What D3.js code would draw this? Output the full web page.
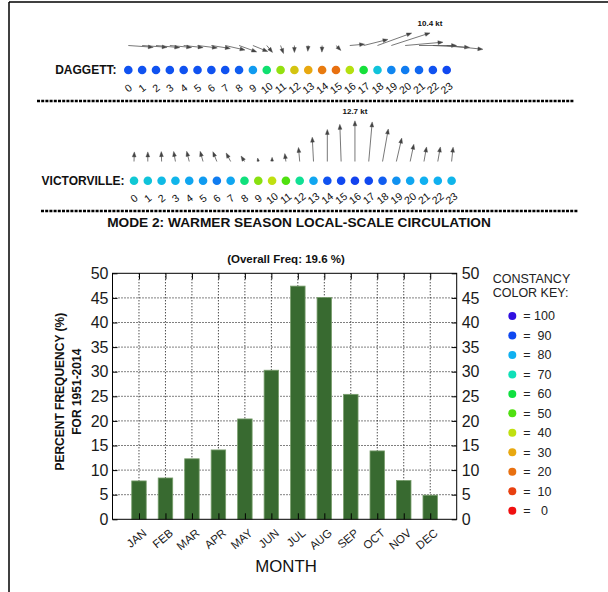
<!DOCTYPE html>
<html>
<head>
<meta charset="utf-8">
<script src="https://cdn.jsdelivr.net/npm/d3@7"></script>
<style>
  html, body { margin: 0; padding: 0; background: #fff; }
  svg { display: block; font-family: "Liberation Sans", Arial, Helvetica, sans-serif; }
</style>
</head>
<body>
<svg id="chart" width="608" height="592"></svg>
<script>
// ---------------- DATA ----------------
const hours = [0,1,2,3,4,5,6,7,8,9,10,11,12,13,14,15,16,17,18,19,20,21,22,23];

// Daggett: constancy (%), wind speed (kt), wind direction (deg, blowing from)
const daggettConstancy = [89,89,89,89,89,89,89,89,88,82,64,44,35,30,22,20,41,59,76,84,85,87,89,90];
const daggettSpeed     = [6.4,6.4,6.1,5.6,5.0,5.1,4.9,5.2,4.8,4.1,2.3,2.2,1.8,1.5,1.7,1.8,3.8,6.4,9.3,10.4,9.7,9.6,9.4,9.3];
const daggettDir       = [274,274,275,275,276,277,279,283,290,292,320,340,0,5,2,315,265,256,250,252,265,270,273,276];

// Victorville
const victorConstancy = [75,76,78,79,81,82,85,81,65,45,40,50,67,81,89,90,91,90,88,83,81,80,80,79];
const victorSpeed     = [3.0,3.0,3.1,3.2,3.3,3.3,3.3,3.0,2.0,1.1,1.3,2.5,4.4,7.6,10.0,11.6,12.7,12.4,10.3,7.5,5.5,4.6,4.6,4.5];
const victorDir       = [182,180,178,170,166,164,158,152,148,170,180,172,175,177,180,178,180,185,190,193,192,190,190,186];

// Monthly frequency (%)
const months = ["JAN","FEB","MAR","APR","MAY","JUN","JUL","AUG","SEP","OCT","NOV","DEC"];
const freq   = [7.8, 8.4, 12.3, 14.1, 20.4, 30.3, 47.4, 45.1, 25.4, 13.9, 7.9, 4.9];
const yTicks = [0,5,10,15,20,25,30,35,40,45,50];

// Constancy colour key
const keyValues = [100,90,80,70,60,50,40,30,20,10,0];
const keyColors = ["#3010e0","#1048f0","#10b0f0","#10e0b8","#10e040","#50e010","#c0e010","#e8a810","#e87010","#e84010","#f01010"];

const titleText = "MODE 2: WARMER SEASON LOCAL-SCALE CIRCULATION";
const overallText = "(Overall Freq: 19.6 %)";

// ---------------- DRAW ----------------
const svg = d3.select("#chart");
const color = d3.scaleLinear().domain(keyValues).range(keyColors).interpolate(d3.interpolateRgb);

// frame
svg.append("line").attr("x1", 9).attr("y1", 2).attr("x2", 608).attr("y2", 2).attr("stroke", "#000").attr("stroke-width", 1.5);
svg.append("line").attr("x1", 9).attr("y1", 2).attr("x2", 9).attr("y2", 592).attr("stroke", "#000").attr("stroke-width", 1.5);

// dashed separators
[[101, 37, 574], [211, 41, 578]].forEach(([yy, x1, x2]) => {
  svg.append("line").attr("x1", x1).attr("x2", x2).attr("y1", yy).attr("y2", yy)
    .attr("stroke", "#000").attr("stroke-width", 2.6).attr("stroke-dasharray", "3,1.2");
});

function drawStation(cfg) {
  const g = svg.append("g");
  const xs = d3.scaleLinear().domain([0, 23]).range(cfg.range);
  const maxS = d3.max(cfg.speed);
  const len = d3.scaleLinear().domain([0, maxS]).range([0, 40.7]);

  const arrows = g.selectAll("g.arrow").data(hours).join("g").attr("class", "arrow");
  arrows.each(function(h) {
    const L = len(cfg.speed[h]);
    const a = (cfg.dir[h] + 180) * Math.PI / 180;
    const ux = Math.sin(a), uy = -Math.cos(a);
    const x0 = xs(h), y0 = cfg.tailY;
    const tx = x0 + ux * L, ty = y0 + uy * L;
    const hl = Math.min(5, L * 0.9), hw = hl * 0.38;
    const sel = d3.select(this);
    sel.append("line").attr("x1", x0).attr("y1", y0)
      .attr("x2", tx - ux * hl * 0.5).attr("y2", ty - uy * hl * 0.5)
      .attr("stroke", "#555").attr("stroke-width", 0.8);
    const bx = tx - ux * hl, by = ty - uy * hl;
    sel.append("path")
      .attr("d", `M${tx},${ty}L${bx - uy * hw},${by + ux * hw}L${bx + uy * hw},${by - ux * hw}Z`)
      .attr("fill", "#444").attr("stroke", "#444").attr("stroke-width", 0.4);
    if (cfg.speed[h] === maxS) {
      g.append("text").attr("x", tx).attr("y", ty - 7).attr("text-anchor", "middle")
        .attr("font-size", 8).attr("font-weight", "bold").attr("fill", "#111")
        .text(maxS.toFixed(1) + " kt");
    }
  });

  g.selectAll("circle").data(hours).join("circle")
    .attr("cx", d => xs(d)).attr("cy", cfg.dotY).attr("r", 4.3)
    .attr("fill", d => color(cfg.constancy[d]));

  g.selectAll("text.hr").data(hours).join("text").attr("class", "hr")
    .attr("transform", d => `translate(${xs(d)},${cfg.labelY}) rotate(-38)`)
    .attr("text-anchor", "middle").attr("dy", "0.35em")
    .attr("font-size", 10.5).attr("fill", "#111").text(d => d);

  g.append("text").attr("x", cfg.nameX).attr("y", cfg.dotY + 4.3)
    .attr("text-anchor", "end").attr("font-size", 12).attr("font-weight", "bold")
    .attr("fill", "#111").text(cfg.name);
}

drawStation({ name: "DAGGETT:", range: [128.3, 446.7], dotY: 70, tailY: 45.5, labelY: 88,
  nameX: 116.5, constancy: daggettConstancy, speed: daggettSpeed, dir: daggettDir });
drawStation({ name: "VICTORVILLE:", range: [134, 451.6], dotY: 180.7, tailY: 161.5, labelY: 198.3,
  nameX: 124.5, constancy: victorConstancy, speed: victorSpeed, dir: victorDir });

svg.append("text").attr("x", 299).attr("y", 227).attr("text-anchor", "middle")
  .attr("font-size", 13.7).attr("font-weight", "bold").attr("fill", "#111").text(titleText);

// ---------------- BAR CHART ----------------
const pLeft = 112.5, pRight = 456.7, pTop = 273.3, pBottom = 519.3;
const x = d3.scaleLinear().domain([0, 13]).range([pLeft, pRight]);
const y = d3.scaleLinear().domain([0, 50]).range([pBottom, pTop]);
const bc = svg.append("g");

svg.append("text").attr("x", 286).attr("y", 263).attr("text-anchor", "middle")
  .attr("font-size", 11.5).attr("font-weight", "bold").attr("fill", "#111").text(overallText);

bc.selectAll("line.hg").data(yTicks.filter(t => t > 0 && t < 50)).join("line").attr("class", "hg")
  .attr("x1", pLeft).attr("x2", pRight).attr("y1", d => y(d)).attr("y2", d => y(d))
  .attr("stroke", "#000").attr("stroke-width", 1).attr("stroke-dasharray", "1,2");
bc.selectAll("line.vg").data(months).join("line").attr("class", "vg")
  .attr("x1", (d, i) => x(i + 1)).attr("x2", (d, i) => x(i + 1)).attr("y1", pTop).attr("y2", pBottom)
  .attr("stroke", "#000").attr("stroke-width", 1).attr("stroke-dasharray", "1,2");

const bw = 14.5;
bc.selectAll("rect.bar").data(freq).join("rect").attr("class", "bar")
  .attr("x", (d, i) => x(i + 1) - bw / 2).attr("width", bw)
  .attr("y", d => y(d)).attr("height", d => y(0) - y(d))
  .attr("fill", "#386a30").attr("stroke", "#7a9f6e").attr("stroke-width", 0.8);

const axL = d3.axisLeft(y).tickValues(yTicks).tickSize(-5).tickPadding(4);
const axR = d3.axisRight(y).tickValues(yTicks).tickSize(-5).tickPadding(5);
const axB = d3.axisBottom(x).tickValues(d3.range(1, 13)).tickFormat(d => months[d - 1]).tickSize(-6);
const axT = d3.axisTop(x).tickValues(d3.range(1, 13)).tickFormat("").tickSize(-6);

function styleAxis(sel) {
  sel.select(".domain").remove();
  sel.selectAll(".tick line").attr("stroke", "#000").attr("stroke-width", 1);
  sel.selectAll("text").attr("fill", "#1a1a1a").attr("font-family", "Liberation Sans, Arial, sans-serif");
}
const gL = svg.append("g").attr("transform", `translate(${pLeft},0)`).call(axL).call(styleAxis);
gL.selectAll("text").attr("font-size", 16);
const gR = svg.append("g").attr("transform", `translate(${pRight},0)`).call(axR).call(styleAxis);
gR.selectAll("text").attr("font-size", 16);
svg.append("g").attr("transform", `translate(0,${pTop})`).call(axT).call(styleAxis);
const gB = svg.append("g").attr("transform", `translate(0,${pBottom})`).call(axB).call(styleAxis);
gB.selectAll("text")
  .attr("font-size", 11.5).attr("text-anchor", "end")
  .attr("x", 0).attr("y", 0).attr("dy", 0)
  .attr("transform", "translate(8,15) rotate(-40)");

svg.append("rect").attr("x", pLeft).attr("y", pTop).attr("width", pRight - pLeft).attr("height", pBottom - pTop)
  .attr("fill", "none").attr("stroke", "#000").attr("stroke-width", 1);

svg.append("text").attr("transform", "translate(63.5,391.7) rotate(-90)").attr("text-anchor", "middle")
  .attr("font-size", 12).attr("font-weight", "bold").attr("fill", "#111").text("PERCENT FREQUENCY (%)");
svg.append("text").attr("transform", "translate(80.5,391.7) rotate(-90)").attr("text-anchor", "middle")
  .attr("font-size", 12).attr("font-weight", "bold").attr("fill", "#111").text("FOR 1951-2014");
svg.append("text").attr("x", 286).attr("y", 571.7).attr("text-anchor", "middle")
  .attr("font-size", 16.8).attr("fill", "#111").text("MONTH");

// ---------------- KEY ----------------
const kg = svg.append("g");
kg.append("text").attr("x", 492.7).attr("y", 283.3).attr("font-size", 12.5).attr("fill", "#222").text("CONSTANCY");
kg.append("text").attr("x", 492.7).attr("y", 296.7).attr("font-size", 12.5).attr("fill", "#222").text("COLOR KEY:");
const ky = d3.scaleLinear().domain([100, 0]).range([316, 510.7]);
kg.selectAll("circle").data(keyValues).join("circle")
  .attr("cx", 512.3).attr("cy", d => ky(d)).attr("r", 4).attr("fill", (d, i) => keyColors[i]);
kg.selectAll("text.kv").data(keyValues).join("text").attr("class", "kv")
  .attr("x", 523.3).attr("y", d => ky(d)).attr("dy", "0.35em")
  .attr("font-size", 12.5).attr("fill", "#222").style("white-space", "pre")
  .text(d => "= " + (d >= 100 ? "" : d >= 10 ? " " : "  ") + d);
</script>
</body>
</html>
